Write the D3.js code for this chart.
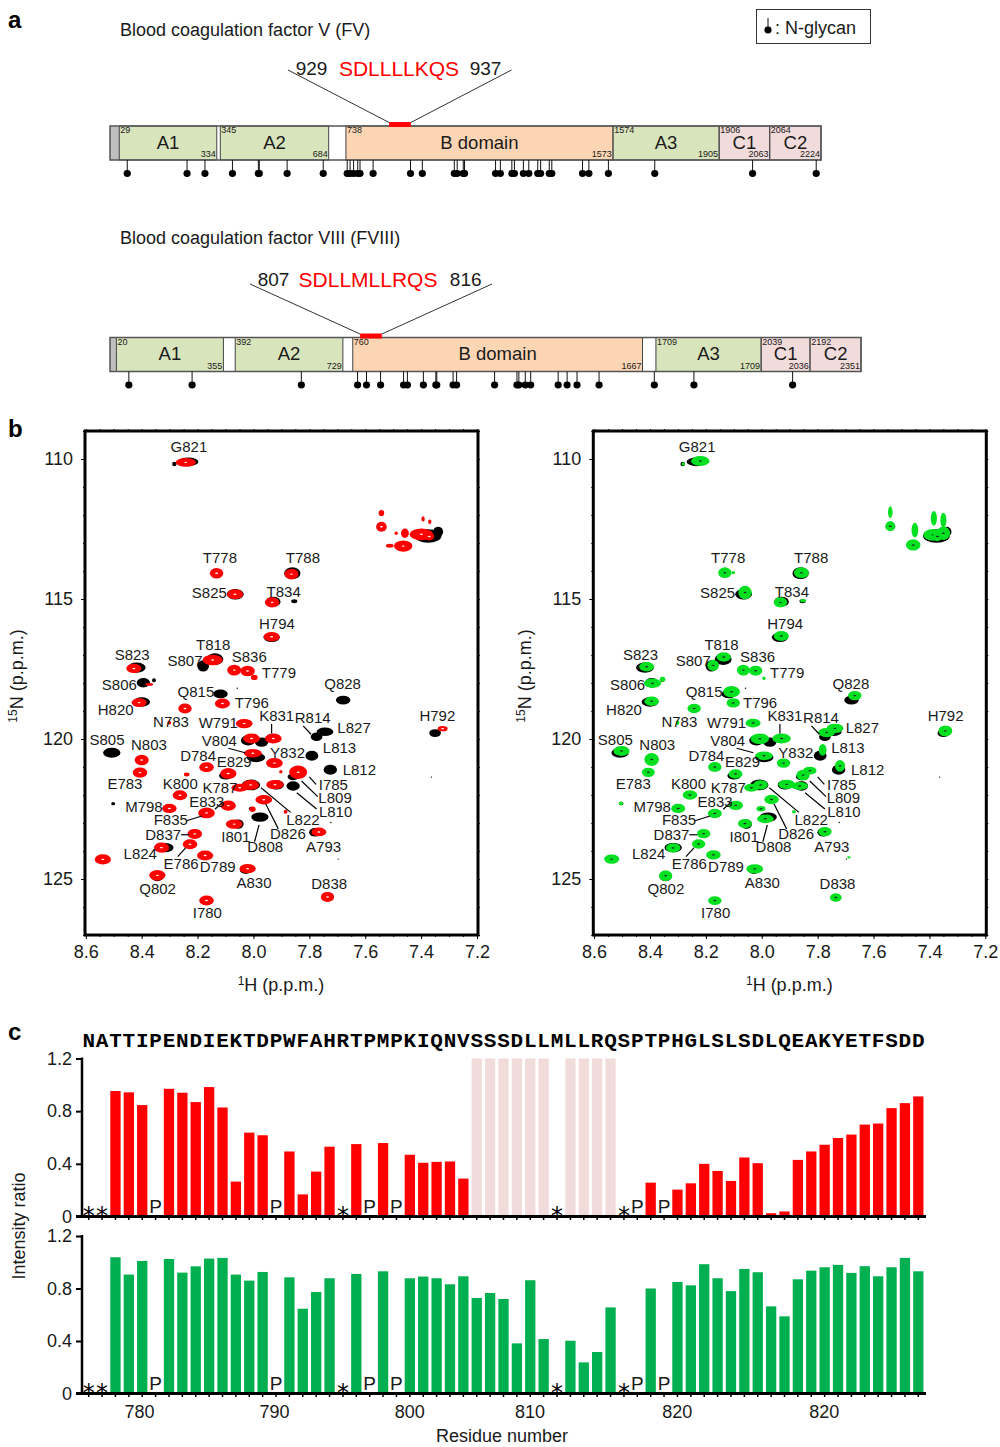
<!DOCTYPE html>
<html>
<head>
<meta charset="utf-8">
<script src="https://d3js.org/d3.v7.min.js"></script>
<style>
body { margin: 0; background: #fff; }
text { font-family: "Liberation Sans", Arial, sans-serif; fill: #1a1a1a; }
.tick text { font-size: 18px; }
</style>
</head>
<body>
<div id="chart"></div>
<script>
// DOMAIN MAPS (residue numbers)
var domainNames = ["A1", "A2", "B domain", "A3", "C1", "C2"];
var fvLength = 2224,
    fvStart = [29, 345, 738, 1574, 1906, 2064],
    fvEnd = [334, 684, 1573, 1905, 2063, 2224],
    fvEndLabel = [334, 684, 1573, 1905, 2063, 2224],
    fvGlycans = [54, 241, 297, 383, 464, 467, 554, 667, 742, 751, 762, 775, 782, 823, 940, 977, 1077, 1086,
      1105, 1109, 1206, 1221, 1257, 1265, 1293, 1310, 1338, 1347, 1374, 1382, 1478, 1498, 1559, 1704, 2010, 2209],
    fvMotif = [873, 941];
var fviiiLength = 2351,
    fviiiStart = [20, 392, 760, 1709, 2039, 2192],
    fviiiEnd = [355, 729, 1667, 2038, 2191, 2351],
    fviiiEndLabel = [355, 729, 1667, 1709, 2036, 2351],
    fviiiGlycans = [59, 257, 599, 775, 803, 847, 919, 931, 981, 1020, 1023, 1074, 1085, 1204, 1274, 1280,
      1300, 1317, 1403, 1431, 1462, 1531, 1704, 1828, 2137],
    fviiiMotif = [783, 851];

// NMR PEAKS: [1H ppm, 15N ppm, half width 1H, half width 15N]
var blackPeaks = [
  [8.233,110.10,.036,.155],[8.283,110.18,.008,.083],[7.375,112.75,.048,.24],[7.339,112.60,.018,.18],
  [7.861,114.08,.029,.21],[8.065,114.83,.03,.19],[7.929,115.10,.026,.18],[7.854,115.08,.011,.07],
  [7.935,116.37,.029,.167],[8.138,117.15,.03,.21],[8.18,117.39,.021,.2],[8.418,117.45,.032,.18],
  [8.394,117.99,.024,.167],[8.356,117.90,.007,.07],[8.118,118.39,.026,.155],[7.679,118.61,.026,.155],
  [8.40,118.68,.03,.167],[8.507,120.49,.031,.18],[7.35,119.79,.021,.14],[8.019,120.05,.026,.18],
  [7.971,120.11,.024,.167],[7.991,120.66,.033,.167],[7.774,119.92,.021,.155],[7.744,119.74,.03,.155],
  [7.791,120.60,.023,.18],[7.725,121.10,.024,.18],[7.858,121.68,.024,.167],[7.858,121.35,.02,.12],
  [7.917,121.64,.026,.167],[7.977,122.79,.031,.167],[8.055,123.04,.02,.167],[7.78,123.33,.021,.155],
  [8.317,123.88,.031,.167],[8.502,122.31,.007,.06],[8.099,121.31,.024,.14],[8.009,121.64,.033,.19],
  [8.344,124.94,.021,.14],[8.028,124.68,.021,.14],[8.007,122.48,.01,.06],
  [8.058,118.19,.0025,.025],[7.363,121.36,.0025,.025],[7.723,122.98,.0025,.025],[7.697,124.29,.0025,.025]
];
var redPeaks = [
  [8.242,110.12,.036,.155],[7.542,111.93,.01,.11],[7.542,112.42,.019,.18],[7.489,112.65,.006,.06],
  [7.458,112.65,.014,.167],[7.399,112.69,.042,.21],[7.371,112.77,.018,.14],[7.393,112.14,.006,.095],
  [7.369,112.24,.006,.083],[7.464,113.11,.033,.2],[7.512,113.10,.014,.07],[8.132,114.08,.024,.19],
  [7.864,114.11,.025,.19],[8.066,114.83,.029,.18],[7.933,115.12,.026,.18],[7.935,116.35,.029,.167],
  [8.146,117.18,.036,.19],[8.428,117.48,.027,.167],[8.069,117.54,.025,.19],[8.021,117.57,.026,.19],
  [7.997,117.80,.012,.095],[8.373,118.05,.014,.05],[8.409,118.70,.027,.155],[8.245,118.91,.024,.18],
  [8.111,118.73,.027,.18],[8.033,119.45,.03,.167],[8.301,119.42,.007,.06],[8.007,119.98,.03,.18],
  [7.929,119.98,.03,.18],[8.002,120.51,.032,.155],[8.40,120.75,.025,.19],[8.406,121.20,.026,.18],
  [8.168,121.01,.026,.18],[8.09,121.23,.029,.19],[7.925,120.86,.03,.18],[7.84,121.19,.032,.24],
  [7.902,121.17,.006,.06],[7.923,121.63,.031,.167],[8.01,121.64,.03,.18],[8.049,121.74,.03,.14],
  [8.239,121.27,.01,.07],[8.263,122.01,.026,.18],[8.301,122.48,.026,.167],[8.09,122.38,.027,.18],
  [8.168,122.64,.03,.19],[7.963,122.17,.03,.167],[8.003,122.51,.011,.095],[7.885,122.60,.007,.07],
  [8.069,123.04,.03,.167],[8.21,123.39,.026,.18],[7.766,123.32,.027,.155],[8.329,123.88,.027,.18],
  [8.227,123.76,.026,.18],[8.173,124.16,.029,.18],[8.539,124.30,.029,.18],[8.344,124.87,.029,.19],
  [8.021,124.63,.029,.167],[8.168,125.77,.026,.18],[7.735,125.64,.024,.18],[7.323,119.63,.018,.095]
];
var greenPeaks = [
  [8.22,110.07,.033,.18],[8.281,110.18,.006,.06],[7.54,111.90,.008,.21],[7.54,112.40,.018,.18],
  [7.452,112.54,.012,.26],[7.458,113.07,.026,.2],[7.386,112.71,.036,.21],[7.35,112.65,.024,.24],
  [7.384,112.12,.011,.26],[7.35,112.18,.011,.26],[7.371,112.77,.017,.167],[8.132,114.06,.024,.19],
  [8.102,114.06,.007,.05],[7.858,114.06,.027,.19],[8.06,114.77,.024,.24],[7.933,115.12,.024,.18],
  [7.852,115.06,.011,.06],[7.93,116.32,.027,.18],[8.136,117.07,.026,.167],[8.174,117.37,.021,.2],
  [8.412,117.42,.027,.167],[8.066,117.54,.023,.19],[8.022,117.56,.024,.18],[7.992,117.83,.006,.06],
  [8.391,118.01,.031,.167],[8.355,117.87,.01,.095],[8.108,118.31,.03,.2],[7.667,118.45,.024,.167],
  [8.394,118.65,.026,.167],[8.242,118.91,.024,.167],[8.102,118.71,.024,.167],[8.031,119.43,.027,.155],
  [8.301,119.42,.006,.083],[8.502,120.43,.029,.18],[7.343,119.71,.025,.19],[8.007,119.99,.033,.19],
  [7.929,119.98,.033,.18],[7.992,120.60,.032,.155],[8.394,120.73,.026,.23],[8.406,121.19,.023,.167],
  [8.168,121.0,.024,.18],[8.094,121.25,.025,.167],[7.922,120.86,.024,.167],[7.828,121.13,.024,.14],
  [7.852,121.29,.024,.19],[7.911,121.62,.03,.167],[7.864,121.68,.03,.14],[8.004,121.64,.026,.167],
  [8.037,121.74,.026,.14],[8.257,122.0,.026,.167],[8.299,122.48,.025,.167],[8.093,122.37,.026,.167],
  [8.168,122.66,.025,.167],[7.965,122.16,.026,.167],[8.003,122.49,.016,.095],[7.987,122.85,.03,.155],
  [7.885,122.60,.007,.06],[8.06,123.02,.025,.167],[8.208,123.38,.024,.167],[7.774,123.31,.024,.167],
  [8.317,123.89,.026,.167],[8.226,123.75,.024,.167],[8.173,124.14,.026,.167],[8.537,124.29,.027,.167],
  [8.344,124.88,.024,.19],[8.025,124.64,.03,.167],[8.168,125.77,.024,.155],[7.735,125.66,.021,.155],
  [7.738,119.62,.03,.167],[7.768,119.77,.03,.167],[7.782,120.39,.014,.21],[7.72,120.96,.018,.21],
  [8.504,122.30,.008,.07],[7.688,124.23,.006,.04]
];

// assignment labels, name and place in ppm
var labelNames = ["G821","T778","T788","S825","T834","H794","T818","S807","S836","T779","S823","S806","Q828",
  "Q815","H820","T796","N783","W791","K831","R814","L827","H792","S805","V804","N803","L813","Y832","D784",
  "E829","L812","E783","K800","I785","K787","L809","E833","M798","L810","F835","L822","D826","D837","I801",
  "D808","A793","L824","E786","D789","A830","Q802","D838","I780"];
var labelH = [8.231,8.12,7.823,8.158,7.892,7.916,8.144,8.245,8.015,7.909,8.434,8.48,7.681,
  8.206,8.493,8.006,8.295,8.126,7.917,7.788,7.64,7.342,8.524,8.122,8.374,7.692,7.878,8.198,
  8.069,7.621,8.46,8.262,7.714,8.12,7.708,8.167,8.392,7.706,8.296,7.823,7.877,8.323,8.063,
  7.958,7.749,8.405,8.259,8.128,7.998,8.343,7.729,8.165];
var labelN = [109.62,113.56,113.56,114.82,114.79,115.93,116.68,117.25,117.11,117.68,117.04,118.10,118.07,
  118.35,119.0,118.75,119.43,119.45,119.2,119.29,119.64,119.2,120.07,120.1,120.25,120.36,120.53,120.65,
  120.86,121.13,121.64,121.64,121.68,121.8,122.13,122.28,122.48,122.63,122.92,122.92,123.43,123.45,123.54,
  123.89,123.89,124.14,124.49,124.6,125.19,125.39,125.21,126.25];
// leader lines: [H1, N1, H2, N2]
var leaders = [
  [7.935,119.46,7.935,119.8],[7.822,119.53,7.794,119.83],[8.09,120.33,8.03,120.49],[8.239,122.92,8.185,122.75],
  [8.259,123.42,8.231,123.42],[8.271,124.2,8.242,123.88],[7.996,123.67,7.98,123.07],[7.911,123.21,7.956,122.32],
  [7.867,122.62,7.973,121.74],[7.774,122.5,7.845,121.92],[7.77,122.06,7.828,121.5],[7.776,121.62,7.8,121.35],
  [8.138,122.51,8.108,122.24]
];
var ppmTicksH = [8.6, 8.4, 8.2, 8.0, 7.8, 7.6, 7.4, 7.2],
    ppmTicksN = [110, 115, 120, 125];

// INTENSITY RATIOS
var sequence = "NATTIPENDIEKTDPWFAHRTPMPKIQNVSSSDLLMLLRQSPTPHGLSLSDLQEAKYETFSDD".split("");
var redRatio = [null,null,.953,.943,.846,null,.97,.94,.869,.983,.828,.265,.637,.617,null,.494,.168,.341,.53,null,
  .55,null,.558,null,.469,.408,.415,.418,.288,null,null,null,null,null,null,null,null,null,null,null,
  null,null,.257,null,.204,.252,.40,.346,.27,.448,.405,.025,.038,.43,.494,.545,.596,.622,.698,.706,.823,.861,.912];
var greenRatio = [null,null,1.038,.906,1.01,null,1.025,.921,.969,1.028,1.033,.906,.86,.926,null,.885,.646,.774,.878,null,
  .911,null,.931,null,.878,.891,.878,.832,.893,.728,.766,.72,.382,.863,.415,null,.402,.237,.316,.656,
  null,null,.80,null,.85,.824,.985,.878,.78,.949,.924,.664,.588,.87,.936,.962,.98,.919,.97,.893,.962,1.033,.931];
var shadedSlots = [29, 30, 31, 32, 33, 34, 36, 37, 38, 39];
var prolineSlots = [5, 14, 21, 23, 41, 43];
var starSlots = [0, 1, 19, 35, 40];
var ratioTicks = [0, 0.4, 0.8, 1.2];
var residueTickAt = [779.8, 789.9, 800, 809, 820, 831],
    residueTickText = ["780", "790", "800", "810", "820", "820"];

var svg = d3.select("#chart").append("svg")
  .attr("width", 1000)
  .attr("height", 1447);

function addText(x, y, str, size) {
  return svg.append("text")
    .attr("x", x).attr("y", y)
    .attr("dominant-baseline", "middle")
    .style("font-size", size + "px")
    .text(str);
}

// panel letters
[["a", 22], ["b", 431], ["c", 1034]].forEach(function(p) {
  addText(8, p[1], p[0], 24).style("font-weight", "bold").style("fill", "#000");
});

// PANEL A
function domainColor(name) {
  if (name[0] == "A") return "#d8e4bc";
  if (name[0] == "B") return "#fcd5b4";
  return "#f2dcdb";
}

function drawGlycan(g, x, y0, y1) {
  g.append("line").attr("x1", x).attr("x2", x).attr("y1", y0).attr("y2", y1)
    .style("stroke", "#111").style("stroke-width", 1);
  g.append("ellipse").attr("cx", x).attr("cy", y1).attr("rx", 3.6).attr("ry", 3.4)
    .style("fill", "#000");
}

function drawMap(opt) {
  var x = d3.scaleLinear().domain([0, opt.length]).range([110, opt.right]);
  var g = svg.append("g");
  var top = opt.top, bottom = opt.top + 34;

  g.append("rect").attr("x", x(0)).attr("y", top)
    .attr("width", x(opt.start[0]) - x(0)).attr("height", bottom - top)
    .style("fill", "#bfbfbf");

  domainNames.forEach(function(name, i) {
    var x0 = x(opt.start[i]), x1 = x(opt.end[i]);
    g.append("rect").attr("x", x0).attr("y", top).attr("width", x1 - x0).attr("height", bottom - top)
      .style("fill", domainColor(name))
      .style("stroke", "#444").style("stroke-width", 1);
    g.append("text").attr("x", (x0 + x1) / 2).attr("y", top + 18)
      .attr("text-anchor", "middle").attr("dominant-baseline", "middle")
      .style("font-size", "18.5px").text(name);
    g.append("text").attr("x", x0 + 1).attr("y", top + 5)
      .attr("dominant-baseline", "middle").style("font-size", "9px").text(opt.start[i]);
    g.append("text").attr("x", x1 - 1).attr("y", bottom - 5)
      .attr("text-anchor", "end").attr("dominant-baseline", "middle")
      .style("font-size", "9px").text(opt.endLabel[i]);
  });

  // outer box
  g.append("rect").attr("x", x(0)).attr("y", top).attr("width", x(opt.length) - x(0)).attr("height", bottom - top)
    .style("fill", "none").style("stroke", "#555").style("stroke-width", 1.5);

  opt.glycans.forEach(function(r) { drawGlycan(g, x(r), bottom, bottom + 13.5); });

  // callout
  var mx0 = x(opt.motif[0]), mx1 = x(opt.motif[1]);
  [[mx0, opt.lineL], [mx1, opt.lineR]].forEach(function(p) {
    g.append("line").attr("x1", p[0]).attr("y1", top - 3.5).attr("x2", p[1]).attr("y2", opt.lineTop)
      .style("stroke", "#333").style("stroke-width", 1);
  });
  g.append("rect").attr("x", mx0).attr("y", top - 4).attr("width", mx1 - mx0).attr("height", 5)
    .style("fill", "#ff0000");

  addText(120, opt.titleY, opt.title, 18);
  addText(opt.numX[0], opt.numY, opt.nums[0], 19).attr("text-anchor", "middle");
  addText(opt.numX[1], opt.numY, opt.motifText, 21).attr("text-anchor", "middle").style("fill", "#ff0000");
  addText(opt.numX[2], opt.numY, opt.nums[1], 19).attr("text-anchor", "middle");
}

drawMap({
  length: fvLength, right: 821, top: 126, start: fvStart, end: fvEnd, endLabel: fvEndLabel,
  glycans: fvGlycans, motif: fvMotif, lineL: 288, lineR: 511.5, lineTop: 70,
  title: "Blood coagulation factor V (FV)", titleY: 31,
  numX: [311.5, 399, 485.6], numY: 70, nums: ["929", "937"], motifText: "SDLLLLKQS"
});
drawMap({
  length: fviiiLength, right: 861, top: 337.5, start: fviiiStart, end: fviiiEnd, endLabel: fviiiEndLabel,
  glycans: fviiiGlycans, motif: fviiiMotif, lineL: 250, lineR: 492, lineTop: 284,
  title: "Blood coagulation factor VIII (FVIII)", titleY: 239,
  numX: [273.6, 368, 465.7], numY: 281, nums: ["807", "816"], motifText: "SDLLMLLRQS"
});

// N-glycan key
svg.append("rect").attr("x", 756.5).attr("y", 9.5).attr("width", 114).attr("height", 34)
  .style("fill", "#fff").style("stroke", "#333").style("stroke-width", 1);
var key = svg.append("g");
drawGlycan(key, 768, 18, 30);
addText(775, 29, ": N-glycan", 18);

// PANEL B
var xH = d3.scaleLinear().domain([8.6, 7.2]).range([85.8, 477]);
var yN = d3.scaleLinear().domain([109, 127]).range([431, 935]);

function drawPeaks(g, peaks, color, coreColor) {
  var sel = g.append("g").selectAll("g").data(peaks).enter().append("g");
  sel.append("ellipse")
    .attr("cx", function(d) { return xH(d[0]); })
    .attr("cy", function(d) { return yN(d[1]); })
    .attr("rx", function(d) { return xH(8.6 - d[2]) - xH(8.6); })
    .attr("ry", function(d) { return yN(109 + d[3]) - yN(109); })
    .style("fill", color);
  if (!coreColor) return;
  sel.filter(function(d) { return d[2] > 0.015; }).append("ellipse")
    .attr("cx", function(d) { return xH(d[0]); })
    .attr("cy", function(d) { return yN(d[1]); })
    .attr("rx", 1.5).attr("ry", 0.7)
    .style("fill", coreColor);
}

function drawSpectrum(dx, peaks, color, coreColor) {
  var g = svg.append("g").attr("transform", "translate(" + dx + ",0)");

  drawPeaks(g, blackPeaks, "#000", null);
  drawPeaks(g, peaks, color, coreColor);

  g.selectAll("line.leader").data(leaders).enter().append("line")
    .attr("class", "leader")
    .attr("x1", function(d) { return xH(d[0]); })
    .attr("y1", function(d) { return yN(d[1]); })
    .attr("x2", function(d) { return xH(d[2]); })
    .attr("y2", function(d) { return yN(d[3]); })
    .style("stroke", "#000").style("stroke-width", 1.2);

  g.selectAll("text.peak").data(labelNames).enter().append("text")
    .attr("class", "peak")
    .attr("x", function(d, i) { return xH(labelH[i]); })
    .attr("y", function(d, i) { return yN(labelN[i]); })
    .attr("text-anchor", "middle").attr("dominant-baseline", "middle")
    .style("font-size", "15px")
    .text(function(d) { return d; });

  // minor + major ticks
  var minorH = d3.axisBottom(xH).tickValues(d3.range(0, 29).map(function(i) { return 7.2 + i * 0.05; }))
    .tickSize(2).tickFormat("");
  var minorN = d3.axisLeft(yN).tickValues(d3.range(109, 128)).tickSize(2).tickFormat("");
  var minorNR = d3.axisRight(yN).tickValues(d3.range(109, 128)).tickSize(2).tickFormat("");
  var minorT = d3.axisTop(xH).tickValues(d3.range(0, 29).map(function(i) { return 7.2 + i * 0.05; }))
    .tickSize(2).tickFormat("");

  g.append("g").attr("transform", "translate(0,935)").call(minorH);
  g.append("g").attr("transform", "translate(0,431)").call(minorT);
  g.append("g").attr("transform", "translate(85,0)").call(minorN);
  g.append("g").attr("transform", "translate(478,0)").call(minorNR);

  g.append("g").attr("transform", "translate(0,935)")
    .call(d3.axisBottom(xH).tickValues(ppmTicksH).tickSize(4).tickPadding(6).tickFormat(d3.format(".1f")));
  g.append("g").attr("transform", "translate(85,0)")
    .call(d3.axisLeft(yN).tickValues(ppmTicksN).tickSize(4).tickPadding(8).tickFormat(d3.format("d")));

  g.selectAll(".domain").remove();
  g.selectAll(".tick line").style("stroke", "#000").style("stroke-width", 1);

  g.append("rect").attr("x", 85).attr("y", 431).attr("width", 393).attr("height", 504)
    .style("fill", "none").style("stroke", "#000").style("stroke-width", 3);

  // axis titles with superscripts
  var xt = g.append("text").attr("x", 281).attr("y", 991).attr("text-anchor", "middle")
    .style("font-size", "18px");
  xt.append("tspan").attr("dy", -6).style("font-size", "12px").text("1");
  xt.append("tspan").attr("dy", 6).text("H (p.p.m.)");

  var yt = g.append("text").attr("transform", "translate(23,676) rotate(-90)").attr("text-anchor", "middle")
    .style("font-size", "18px");
  yt.append("tspan").attr("dy", -6).style("font-size", "12px").text("15");
  yt.append("tspan").attr("dy", 6).text("N (p.p.m.)");
}

drawSpectrum(0, redPeaks, "#ff0000", "#fff");
drawSpectrum(508.3, greenPeaks, "#00e020", "#222");

// PANEL C
var slots = d3.range(sequence.length);
var xSlot = d3.scaleBand().domain(slots).range([82, 925]).paddingInner(0.23).paddingOuter(0.115);
var xResidue = d3.scaleLinear().domain([776, 838]).range([88.7, 918]);

svg.selectAll("text.residue").data(sequence).enter().append("text")
  .attr("class", "residue")
  .attr("x", function(d, i) { return xSlot(i) + xSlot.bandwidth() / 2; })
  .attr("y", 1047)
  .attr("text-anchor", "middle")
  .style("font-family", "'Liberation Mono', monospace")
  .style("font-weight", "bold")
  .style("font-size", "21px")
  .style("fill", "#000")
  .text(function(d) { return d; });

function drawRatio(y0, y1, values, color, shaded) {
  var y = d3.scaleLinear().domain([0, 1.2]).range([y1, y0]);
  var g = svg.append("g");

  if (shaded) {
    g.selectAll("rect.shade").data(shadedSlots).enter().append("rect")
      .attr("class", "shade")
      .attr("x", function(d) { return xSlot(d); })
      .attr("y", y(1.2))
      .attr("width", xSlot.bandwidth())
      .attr("height", y(0) - y(1.2))
      .style("fill", "#f2dcdb");
  }

  g.selectAll("rect.bar").data(slots.filter(function(i) { return values[i] !== null; })).enter().append("rect")
    .attr("class", "bar")
    .attr("x", function(d) { return xSlot(d); })
    .attr("y", function(d) { return y(values[d]); })
    .attr("width", xSlot.bandwidth())
    .attr("height", function(d) { return y(0) - y(values[d]); })
    .style("fill", color);

  g.selectAll("text.pro").data(prolineSlots).enter().append("text")
    .attr("class", "pro")
    .attr("x", function(d) { return xSlot(d) + xSlot.bandwidth() / 2; })
    .attr("y", y1 - 4)
    .attr("text-anchor", "middle")
    .style("font-size", "19px")
    .text("P");

  g.selectAll("text.star").data(starSlots).enter().append("text")
    .attr("class", "star")
    .attr("x", function(d) { return xSlot(d) + xSlot.bandwidth() / 2; })
    .attr("y", y1 + 7)
    .attr("text-anchor", "middle")
    .style("font-family", "'DejaVu Sans', sans-serif")
    .style("font-size", "24px")
    .style("fill", "#000")
    .text("*");

  // residue ticks
  var ax = g.append("g").attr("transform", "translate(0," + y1 + ")")
    .call(d3.axisBottom(xSlot).tickSize(3.5).tickFormat(""));
  ax.select(".domain").remove();
  ax.selectAll("line").style("stroke", "#000").style("stroke-width", 1.5);

  var ay = g.append("g").attr("transform", "translate(82,0)")
    .call(d3.axisLeft(y).tickValues(ratioTicks).tickSize(6).tickPadding(4)
      .tickFormat(function(d) { return d === 0 ? "0" : d.toFixed(1); }));
  ay.select(".domain").remove();
  ay.selectAll("line").style("stroke", "#000").style("stroke-width", 2);

  g.append("line").attr("x1", 82).attr("x2", 82).attr("y1", y0 - 1).attr("y2", y1)
    .style("stroke", "#000").style("stroke-width", 2.5);
  g.append("line").attr("x1", 76).attr("x2", 926).attr("y1", y1).attr("y2", y1)
    .style("stroke", "#000").style("stroke-width", 3);
}

drawRatio(1058.5, 1216.5, redRatio, "#ff0000", true);
drawRatio(1236, 1393.5, greenRatio, "#00b050", false);

svg.selectAll("text.restick").data(residueTickText).enter().append("text")
  .attr("class", "restick")
  .attr("x", function(d, i) { return xResidue(residueTickAt[i]); })
  .attr("y", 1418)
  .attr("text-anchor", "middle")
  .style("font-size", "18px")
  .text(function(d) { return d; });

addText(502, 1437, "Residue number", 18).attr("text-anchor", "middle");
svg.append("text").attr("transform", "translate(25,1226) rotate(-90)").attr("text-anchor", "middle")
  .style("font-size", "18px").text("Intensity ratio");
</script>
</body>
</html>
